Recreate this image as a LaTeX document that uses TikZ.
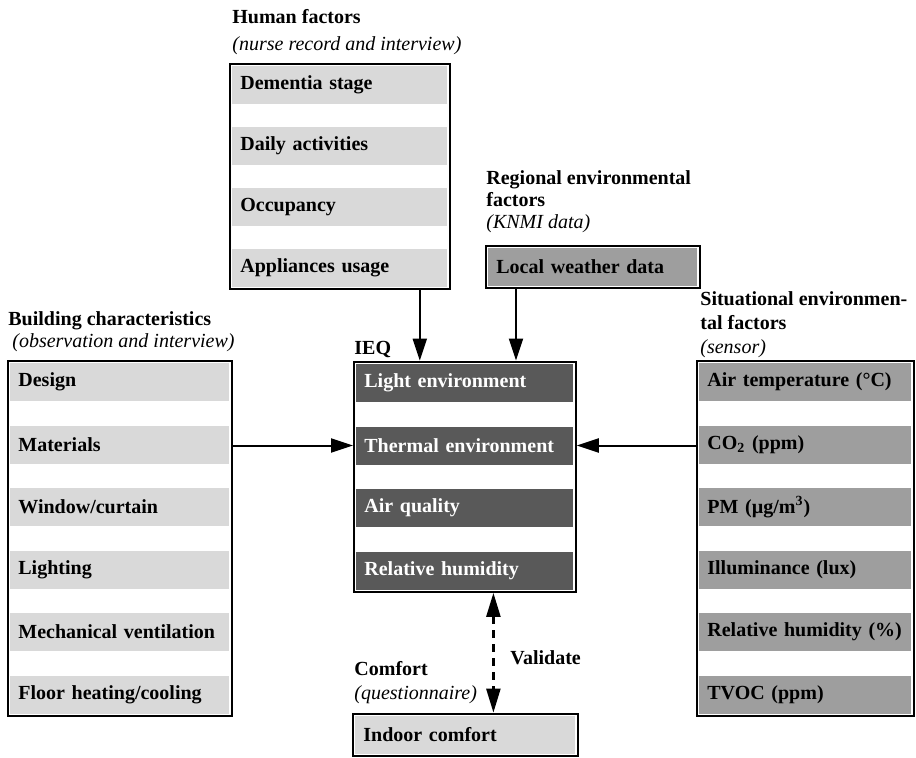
\documentclass[tikz,border=0pt]{standalone}
\usepackage{fontspec}
\setmainfont{Liberation Serif}
\usetikzlibrary{arrows.meta,fit}

\definecolor{lightband}{HTML}{D9D9D9}
\definecolor{midband}{HTML}{9E9E9E}
\definecolor{darkband}{HTML}{595959}

\begin{document}
\begin{tikzpicture}[x=0.5pt,y=-0.5pt,
  band/.style={anchor=west,minimum height=19pt,inner xsep=4pt,inner ysep=0pt,text width=#1,align=left,font=\bfseries},
  light/.style={fill=lightband},
  mid/.style={fill=midband},
  dark/.style={fill=darkband,text=white},
  frame/.style={draw,line width=1pt,inner sep=1pt},
  title/.style={anchor=north west,inner sep=0pt,align=left},
  arr/.style={line width=1pt,-{Triangle[length=11pt,width=7pt]}},
  dasharr/.style={line width=1.2pt,dash pattern=on 4pt off 3pt,{Triangle[length=12pt,width=7pt]}-{Triangle[length=12pt,width=7pt]}}]
\useasboundingbox (0,0) rectangle (916,757);

% Human factors
\node[title] (humt) at (232,9) {\textbf{Human factors}\\[1.5pt]\textit{(nurse record and interview)}};
\node[band=99.5pt,light] (dem) at (232,85) {Dementia stage};
\node[band=99.5pt,light] (act) at (232,146) {Daily activities};
\node[band=99.5pt,light] (occ) at (232,207) {Occupancy};
\node[band=99.5pt,light] (app) at (232,268) {Appliances usage};
\node[frame,fit=(dem)(app)] (hum) {};

% Regional environmental factors
\node[title] (regt) at (486,170) {\textbf{Regional environmental}\\[-1pt]\textbf{factors}\\[-1pt]\textit{(KNMI data)}};
\node[band=96.5pt,mid] (wea) at (488,267) {Local weather data};
\node[frame,fit=(wea)] (reg) {};

% Building characteristics
\node[title] (bldt) at (8,311) {\textbf{Building characteristics}\\[-1pt]\hspace{2pt}\textit{(observation and interview)}};
\node[band=101.5pt,light] (des) at (10,382) {Design};
\node[band=101.5pt,light] (mat) at (10,444.5) {Materials};
\node[band=101.5pt,light] (win) at (10,507) {Window/curtain};
\node[band=101.5pt,light] (lig) at (10,569.5) {Lighting};
\node[band=101.5pt,light] (mec) at (10,632) {Mechanical ventilation};
\node[band=101.5pt,light] (flo) at (10,694.5) {Floor heating/cooling};
\node[frame,fit=(des)(flo)] (bld) {};

% IEQ
\node[band=100.5pt,dark] (lenv) at (356,383) {Light environment};
\node[band=100.5pt,dark] (therm) at (356,445.5) {Thermal environment};
\node[band=100.5pt,dark] (airq) at (356,508) {Air quality};
\node[band=100.5pt,dark] (rhum) at (356,570.5) {Relative humidity};
\node[frame,fit=(lenv)(rhum)] (ieq) {};
\node[anchor=base west,inner sep=0pt,font=\bfseries] (ieqt) at ([xshift=0.5pt,yshift=3pt]ieq.north west) {IEQ};

% Situational environmental factors
\node[title] (sitt) at (700,291) {\textbf{Situational environmen-}\\\textbf{tal factors}\\\textit{(sensor)}};
\node[band=98pt,mid] (tem) at (699,382) {Air temperature (°C)};
\node[band=98pt,mid] (co2) at (699,444.5) {CO\textsubscript{2} (ppm)};
\node[band=98pt,mid] (pm) at (699,507) {PM (µg/m\textsuperscript{3})};
\node[band=98pt,mid] (ill) at (699,569.5) {Illuminance (lux)};
\node[band=98pt,mid] (rh) at (699,632) {Relative humidity (\%)};
\node[band=98pt,mid] (tvoc) at (699,694.5) {TVOC (ppm)};
\node[frame,fit=(tem)(tvoc)] (sit) {};

% Comfort
\node[title] (comt) at (354,661) {\textbf{Comfort}\\\textit{(questionnaire)}};
\node[band=102pt,light] (ind) at (355,735) {Indoor comfort};
\node[frame,fit=(ind)] (com) {};

% Connectors
\coordinate (humout) at ([xshift=-15.5pt]hum.south east);
\coordinate (regout) at ([xshift=15.5pt]reg.south west);
\draw[arr] (humout) -- (humout |- ieq.north);
\draw[arr] (regout) -- (regout |- ieq.north);
\draw[arr] (bld.east |- therm) -- (ieq.west |- therm);
\draw[arr] (sit.west |- therm) -- (ieq.east |- therm);

\coordinate (valtop) at ([xshift=14.25pt]ieq.south);
\draw[dasharr] (valtop) -- (valtop |- com.north);
\node[anchor=west,inner sep=0pt,font=\bfseries] (val) at (510,658) {Validate};
\end{tikzpicture}
\end{document}
